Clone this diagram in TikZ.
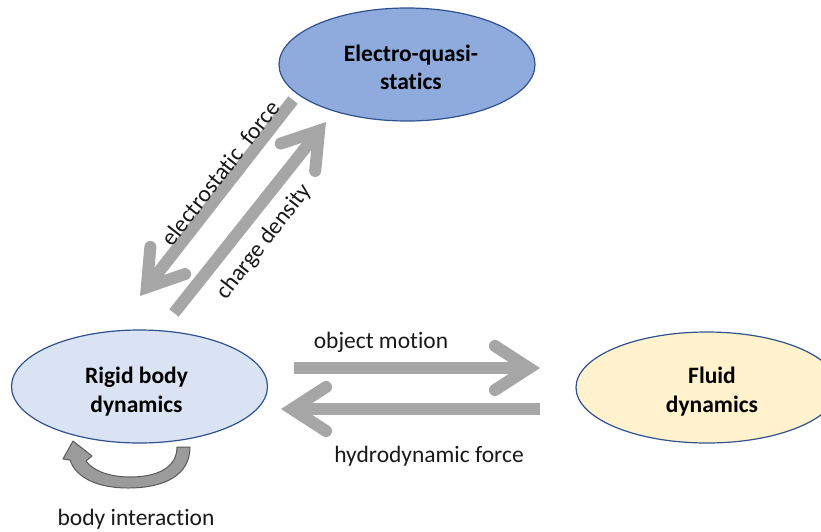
\documentclass[tikz,border=0pt]{standalone}
\usepackage{fontspec}
\setmainfont{Carlito}[Ligatures=NoCommon]
\usetikzlibrary{shapes.geometric,arrows.meta}
\definecolor{eqsfill}{HTML}{8FAADC}
\definecolor{rbfill}{HTML}{DAE3F3}
\definecolor{fdfill}{HTML}{FFF2CC}
\definecolor{edgeblue}{HTML}{2F528F}
\definecolor{arrowgray}{HTML}{A6A6A6}
\definecolor{loopfill}{HTML}{9B9B9B}
\definecolor{loopedge}{HTML}{595959}
\begin{document}
\begin{tikzpicture}[x=1pt,y=-1pt,
  font=\fontsize{23.5}{28}\selectfont,
  blob/.style={ellipse, draw=edgeblue, line width=1.2pt, inner sep=0pt,
    minimum width=256pt, minimum height=113pt},
  blobtext/.style={align=center, inner sep=0pt,
    font=\fontsize{23.5}{28.5}\selectfont\bfseries},
  bigarrow/.style={draw=arrowgray, line width=12pt,
    -{Straight Barb[length=34pt,width=44pt,line cap=round,line join=miter]}},
  lab/.style={text=black!90, inner sep=0pt},
  loopstyle/.style={fill=loopfill, draw=loopedge, line width=1pt, line join=round}
]
\useasboundingbox (0,0) rectangle (821,531);
\node[blob, fill=eqsfill] (eqs) at (407,64.5) {};
\node[blob, fill=rbfill] (rbd) at (139.5,386.5) {};
\node[blob, fill=fdfill, minimum width=262pt, minimum height=111pt] (fd) at (707,387.5) {};
\node[blobtext] (eqst) at ([xshift=4pt,yshift=-3pt]eqs.center) {Electro-quasi-\\statics};
\node[blobtext] (rbdt) at ([xshift=-3pt,yshift=-5pt]rbd.center) {Rigid body\\dynamics};
\node[blobtext] (fdt) at ([xshift=5pt,yshift=-4pt]fd.center) {Fluid\\dynamics};

\coordinate (ef1) at (293,100); \coordinate (ef2) at (140,296);
\coordinate (cd1) at (174,313); \coordinate (cd2) at (326,122);
\coordinate (om1) at (294,368); \coordinate (om2) at (540,368);
\coordinate (hf1) at (540,409); \coordinate (hf2) at (281,409);

\draw[bigarrow] (ef1) -- (ef2);
\draw[bigarrow] (cd1) -- (cd2);
\draw[bigarrow] (om1) -- (om2);
\draw[bigarrow] (hf1) -- (hf2);

\node[lab, rotate=52] (eflab) at (220,173) {electrostatic\ \ force};
\node[lab, rotate=52] (cdlab) at (264,242) {charge density};
\node[lab] (omlab) at (381,342) {object motion};
\node[lab] (hflab) at (429,456.5) {hydrodynamic force};
\node[lab] (bilab) at (136,519.5) {body interaction};

\draw[loopstyle]
 (190,447) .. controls (190,475) and (165,488) .. (128,488)
 .. controls (98,488) and (76,478) .. (70,460)
 -- (63,459) -- (73,441) -- (92,456) -- (86,461)
 .. controls (93,471) and (110,477) .. (130,477)
 .. controls (160,477) and (177,466) .. (177,447) -- cycle;
\end{tikzpicture}
\end{document}
